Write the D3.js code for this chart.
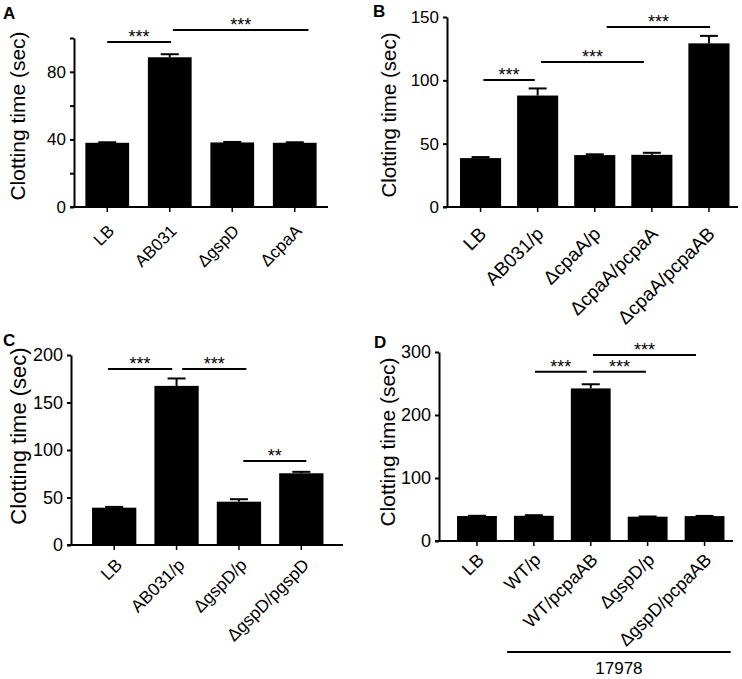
<!DOCTYPE html>
<html>
<head>
<meta charset="utf-8">
<script src="https://cdn.jsdelivr.net/npm/d3@7"></script>
<style>
  body { margin: 0; background: #fff; }
  svg { font-family: "Liberation Sans", Arial, sans-serif; }
</style>
</head>
<body>
<script>
// categories
var catsA = ["LB", "AB031", "ΔgspD", "ΔcpaA"];
var catsB = ["LB", "AB031/p", "ΔcpaA/p", "ΔcpaA/pcpaA", "ΔcpaA/pcpaAB"];
var catsC = ["LB", "AB031/p", "ΔgspD/p", "ΔgspD/pgspD"];
var catsD = ["LB", "WT/p", "WT/pcpaAB", "ΔgspD/p", "ΔgspD/pcpaAB"];

// clotting time means and error (sec)
var meanA = [38, 88.6, 38.2, 38];
var semA  = [0.3, 1.8, 0.3, 0.3];
var meanB = [38.6, 88, 41, 41.2, 129.2];
var semB  = [0.8, 5.6, 0.6, 1.6, 5.9];
var meanC = [39.3, 167.5, 45.6, 75.5];
var semC  = [0.8, 7.8, 2.6, 1.5];
var meanD = [39.7, 40, 242.2, 38.6, 39.5];
var semD  = [0.3, 1, 6.6, 0.3, 0.3];

// y ticks
var ticksA = [0, 20, 40, 60, 80, 100], tickLabA = ["0", "", "40", "", "80", ""];
var ticksB = [0, 50, 100, 150],        tickLabB = ["0", "50", "100", "150"];
var ticksC = [0, 50, 100, 150, 200],   tickLabC = ["0", "50", "100", "150", "200"];
var ticksD = [0, 100, 200, 300],       tickLabD = ["0", "100", "200", "300"];

// significance bars: [from category, to category, y value, label]
var sigA = [[0, 1.02, 97.6, "***"], [1.05, 3.22, 104.7, "***"]];
var sigB = [[0.05, 0.95, 100.3, "***"], [1.06, 2.86, 114.5, "***"], [2.21, 4.02, 142.1, "***"]];
var sigC = [[-0.1, 0.93, 185.3, "***"], [1.09, 2.12, 185.3, "***"], [2.07, 3.08, 88.4, "**"]];
var sigD = [[1.02, 1.93, 268.7, "***"], [2.04, 2.97, 268.7, "***"], [2.04, 3.85, 295.2, "***"]];

// strain grouping under panel D
var groupD = { from: 0.53, to: 4.46, label: "17978" };

var svg = d3.select("body").append("svg")
    .attr("width", 742)
    .attr("height", 679);

var panels = [
  { letter: "A", cats: catsA, mean: meanA, sem: semA, ticks: ticksA, tickLab: tickLabA, sig: sigA,
    yMax: 100, left: 74, right: 328, top: 38, bottom: 207, band: [76, 326], pad: 0.3,
    lx: 3, ly: 19, ylx: 18, yly: 116, ylSize: 21, tickSize: 17, xlSize: 17, xlOff: [8, 25] },
  { letter: "B", cats: catsB, mean: meanB, sem: semB, ticks: ticksB, tickLab: tickLabB, sig: sigB,
    yMax: 150, left: 447, right: 738, top: 17, bottom: 207, band: [452, 737.5], pad: 0.28,
    lx: 373, ly: 17, ylx: 389, yly: 115, ylSize: 20.5, tickSize: 17, xlSize: 19, xlOff: [7, 28] },
  { letter: "C", cats: catsC, mean: meanC, sem: semC, ticks: ticksC, tickLab: tickLabC, sig: sigC,
    yMax: 200, left: 71, right: 343, top: 355, bottom: 545, band: [83, 332.5], pad: 0.29,
    lx: 3, ly: 346, ylx: 18, yly: 436, ylSize: 22, tickSize: 18, xlSize: 17.5, xlOff: [9, 21] },
  { letter: "D", cats: catsD, mean: meanD, sem: semD, ticks: ticksD, tickLab: tickLabD, sig: sigD,
    yMax: 300, left: 439, right: 733, top: 352, bottom: 541, band: [448.5, 733], pad: 0.3,
    lx: 374, ly: 348, ylx: 388, yly: 442, ylSize: 21, tickSize: 18, xlSize: 18, xlOff: [8, 20],
    group: groupD }
];

panels.forEach(drawPanel);

function drawPanel(p){
    var g = svg.append("g");

    var x = d3.scaleBand()
        .domain(p.cats)
        .range(p.band)
        .paddingInner(p.pad)
        .paddingOuter(p.pad / 2);

    var y = d3.scaleLinear()
        .domain([0, p.yMax])
        .range([p.bottom, p.top]);

    // category index (fractional) -> pixel
    var cx = function(i){ return p.band[0] + x.step() * (i + 0.5); };

    // bars
    g.selectAll(".bar")
        .data(p.mean)
        .enter()
        .append("rect")
        .attr("x", function(d, i){ return x(p.cats[i]); })
        .attr("y", function(d){ return y(d); })
        .attr("width", x.bandwidth())
        .attr("height", function(d){ return y(0) - y(d); })
        .attr("fill", "#000");

    // error bars (upper only)
    var cap = 9;
    p.mean.forEach(function(m, i){
        var xc = x(p.cats[i]) + x.bandwidth() / 2;
        g.append("line")
            .attr("x1", xc).attr("x2", xc)
            .attr("y1", y(m)).attr("y2", y(m + p.sem[i]))
            .attr("stroke", "#000").attr("stroke-width", 2);
        g.append("line")
            .attr("x1", xc - cap).attr("x2", xc + cap)
            .attr("y1", y(m + p.sem[i])).attr("y2", y(m + p.sem[i]))
            .attr("stroke", "#000").attr("stroke-width", 2);
    });

    // y axis
    var yAxis = g.append("g")
        .attr("transform", "translate(" + p.left + ",0)")
        .call(d3.axisLeft(y)
            .tickValues(p.ticks)
            .tickFormat(function(d, i){ return p.tickLab[i]; })
            .tickSize(4)
            .tickSizeOuter(0)
            .tickPadding(4));
    yAxis.selectAll("line, path").attr("stroke", "#000").attr("stroke-width", 2);
    yAxis.selectAll("text")
        .attr("fill", "#000")
        .style("font-size", p.tickSize + "px")
        .style("font-family", "Liberation Sans, Arial, sans-serif");

    // x axis
    var xAxis = g.append("g")
        .attr("transform", "translate(0," + p.bottom + ")")
        .call(d3.axisBottom(x).tickSize(5).tickSizeOuter(0).tickFormat(""));
    xAxis.select(".domain").remove();
    xAxis.selectAll("line").attr("stroke", "#000").attr("stroke-width", 1.5);
    g.append("line")
        .attr("x1", p.left - 4).attr("x2", p.right)
        .attr("y1", p.bottom).attr("y2", p.bottom)
        .attr("stroke", "#000").attr("stroke-width", 2);

    // rotated category labels
    p.cats.forEach(function(c){
        g.append("text")
            .attr("transform", "translate(" + (x(c) + x.bandwidth() / 2 + p.xlOff[0]) + "," + (p.bottom + p.xlOff[1]) + ") rotate(-45)")
            .attr("text-anchor", "end")
            .style("font-size", p.xlSize + "px")
            .text(c);
    });

    // y axis title
    g.append("text")
        .attr("transform", "translate(" + p.ylx + "," + p.yly + ") rotate(-90)")
        .attr("text-anchor", "middle")
        .attr("dy", "0.35em")
        .style("font-size", p.ylSize + "px")
        .text("Clotting time (sec)");

    // panel letter
    g.append("text")
        .attr("x", p.lx).attr("y", p.ly)
        .style("font-size", "17px")
        .style("font-weight", "bold")
        .text(p.letter);

    // significance bars
    p.sig.forEach(function(s){
        g.append("line")
            .attr("x1", cx(s[0])).attr("x2", cx(s[1]))
            .attr("y1", y(s[2])).attr("y2", y(s[2]))
            .attr("stroke", "#000").attr("stroke-width", 2);
        g.append("text")
            .attr("x", (cx(s[0]) + cx(s[1])) / 2)
            .attr("y", y(s[2]) + 1)
            .attr("text-anchor", "middle")
            .style("font-size", "18px")
            .text(s[3]);
    });

    // strain group line
    if (p.group){
        g.append("line")
            .attr("x1", cx(p.group.from)).attr("x2", cx(p.group.to))
            .attr("y1", 652).attr("y2", 652)
            .attr("stroke", "#000").attr("stroke-width", 2);
        g.append("text")
            .attr("x", (cx(p.group.from) + cx(p.group.to)) / 2)
            .attr("y", 674)
            .attr("text-anchor", "middle")
            .style("font-size", "17px")
            .text(p.group.label);
    }
}
</script>
</body>
</html>
